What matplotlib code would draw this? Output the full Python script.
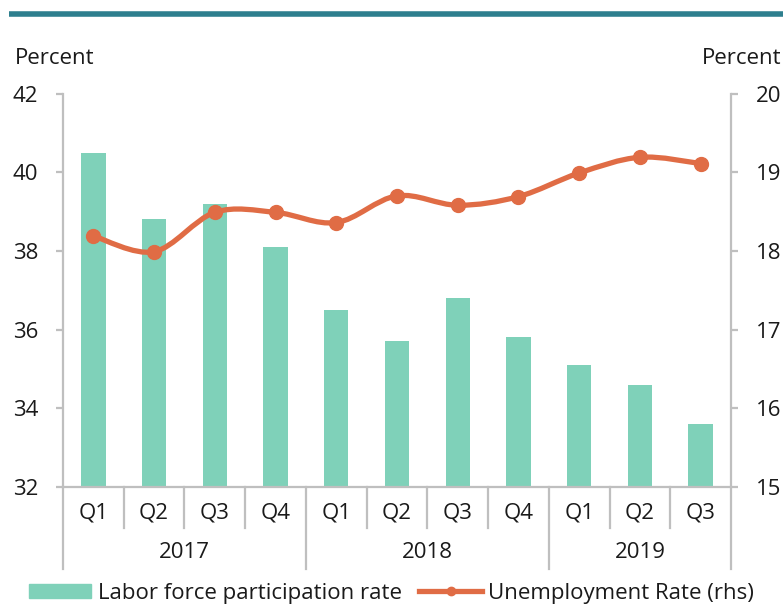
import matplotlib.pyplot as plt
import matplotlib.lines as mlines
import matplotlib.patches as mpatches
from matplotlib.path import Path
import numpy as np

plt.rcParams['font.family'] = ['Open Sans', 'DejaVu Sans']
plt.rcParams['font.size'] = 16

# data
quarters = ['Q1', 'Q2', 'Q3', 'Q4', 'Q1', 'Q2', 'Q3', 'Q4', 'Q1', 'Q2', 'Q3']
years = ['2017', '2018', '2019']
year_counts = [4, 4, 3]
participation = [40.5, 38.8, 39.2, 38.1, 36.5, 35.7, 36.8, 35.8, 35.1, 34.6, 33.6]
unemployment = [18.19, 17.99, 18.49, 18.49, 18.36, 18.70, 18.58, 18.69, 18.99, 19.19, 19.11]

bar_color = '#7FD1B9'
line_color = '#E06C45'
axis_gray = '#BFBFBF'
text_color = '#1A1A1A'
FS = 16


def smooth_path(x, y, tension=1 / 6):
    # Excel-like smoothed line: cubic bezier segments through the points
    x = np.asarray(x, float)
    y = np.asarray(y, float)
    verts = [(x[0], y[0])]
    codes = [Path.MOVETO]
    n = len(x)
    for i in range(n - 1):
        p0 = (x[max(i - 1, 0)], y[max(i - 1, 0)])
        p1 = (x[i], y[i])
        p2 = (x[i + 1], y[i + 1])
        p3 = (x[min(i + 2, n - 1)], y[min(i + 2, n - 1)])
        c1 = (p1[0] + (p2[0] - p0[0]) * tension, p1[1] + (p2[1] - p0[1]) * tension)
        c2 = (p2[0] - (p3[0] - p1[0]) * tension, p2[1] - (p3[1] - p1[1]) * tension)
        verts += [c1, c2, p2]
        codes += [Path.CURVE4] * 3
    return Path(verts, codes)


fig = plt.figure(figsize=(7.83, 6.07), dpi=100)
W, H = 783, 607
left, right, top, bottom = 63, 731, 93.5, 487
ax = fig.add_axes([left / W, 1 - bottom / H, (right - left) / W, (bottom - top) / H])
ax2 = ax.twinx()

x = np.arange(len(quarters))
ax.bar(x, participation, width=0.4, color=bar_color, zorder=2)
ax.set_xlim(-0.5, len(quarters) - 0.5)
ax.set_ylim(32, 42)
ax.set_yticks(np.arange(32, 43, 2))
ax2.set_ylim(15, 20)
ax2.set_yticks(np.arange(15, 21, 1))

path = smooth_path(x, unemployment)
ax2.add_patch(mpatches.PathPatch(path, facecolor='none', edgecolor=line_color,
                                 lw=3.8, capstyle='round', zorder=3))
ax2.plot(x, unemployment, 'o', color=line_color, markersize=10, zorder=4)

for a in (ax, ax2):
    a.spines['top'].set_visible(False)
    for s in ('left', 'right', 'bottom'):
        a.spines[s].set_color(axis_gray)
        a.spines[s].set_linewidth(1.6)
    a.tick_params(axis='y', length=5, width=1.6, color=axis_gray,
                  labelsize=FS, labelcolor=text_color, pad=13)
ax.tick_params(axis='x', length=0, labelbottom=False)
ax.spines['right'].set_visible(False)
ax2.spines['left'].set_visible(False)
ax2.spines['bottom'].set_visible(False)

# category axis (two levels)
trans = ax.get_xaxis_transform()
span = bottom - top
y_q_end = -(528 - bottom) / span
y_yr_end = -(569 - bottom) / span
for i, q in enumerate(quarters):
    ax.text(i, -(513 - bottom) / span, q, transform=trans,
            ha='center', va='center', fontsize=FS, color=text_color)
edges = np.cumsum([0] + year_counts)
for i in range(1, len(quarters)):
    if i in edges:
        continue
    ax.add_line(mlines.Line2D([i - 0.5, i - 0.5], [0, y_q_end], transform=trans,
                              color=axis_gray, lw=1.6, clip_on=False))
for e in edges:
    ax.add_line(mlines.Line2D([e - 0.5, e - 0.5], [0, y_yr_end], transform=trans,
                              color=axis_gray, lw=1.6, clip_on=False))
for k, yr in enumerate(years):
    c = (edges[k] + edges[k + 1] - 1) / 2
    ax.text(c, -(552 - bottom) / span, yr, transform=trans,
            ha='center', va='center', fontsize=FS, color=text_color)

# axis titles
fig.text(15 / W, 1 - 58 / H, 'Percent', ha='left', va='center', fontsize=FS, color=text_color)
fig.text(781 / W, 1 - 58 / H, 'Percent', ha='right', va='center', fontsize=FS, color=text_color)

# top rule
fig.add_artist(mlines.Line2D([9 / W, 1.0], [1 - 13.5 / H, 1 - 13.5 / H],
                             color='#2E7F8E', lw=4, solid_capstyle='butt'))

# legend
h_bar = mpatches.Patch(color=bar_color)
h_line = mlines.Line2D([], [], color=line_color, lw=3.8, marker='o', markersize=6)
fig.legend([h_bar, h_line], ['Labor force participation rate', 'Unemployment Rate (rhs)'],
           loc='center', bbox_to_anchor=(0.5, 1 - 593 / H), ncol=2, frameon=False,
           fontsize=FS, handlelength=2.8, handleheight=0.6, handletextpad=0.3,
           columnspacing=0.8, labelcolor=text_color)

fig.savefig('out.png', dpi=100, facecolor='white')
